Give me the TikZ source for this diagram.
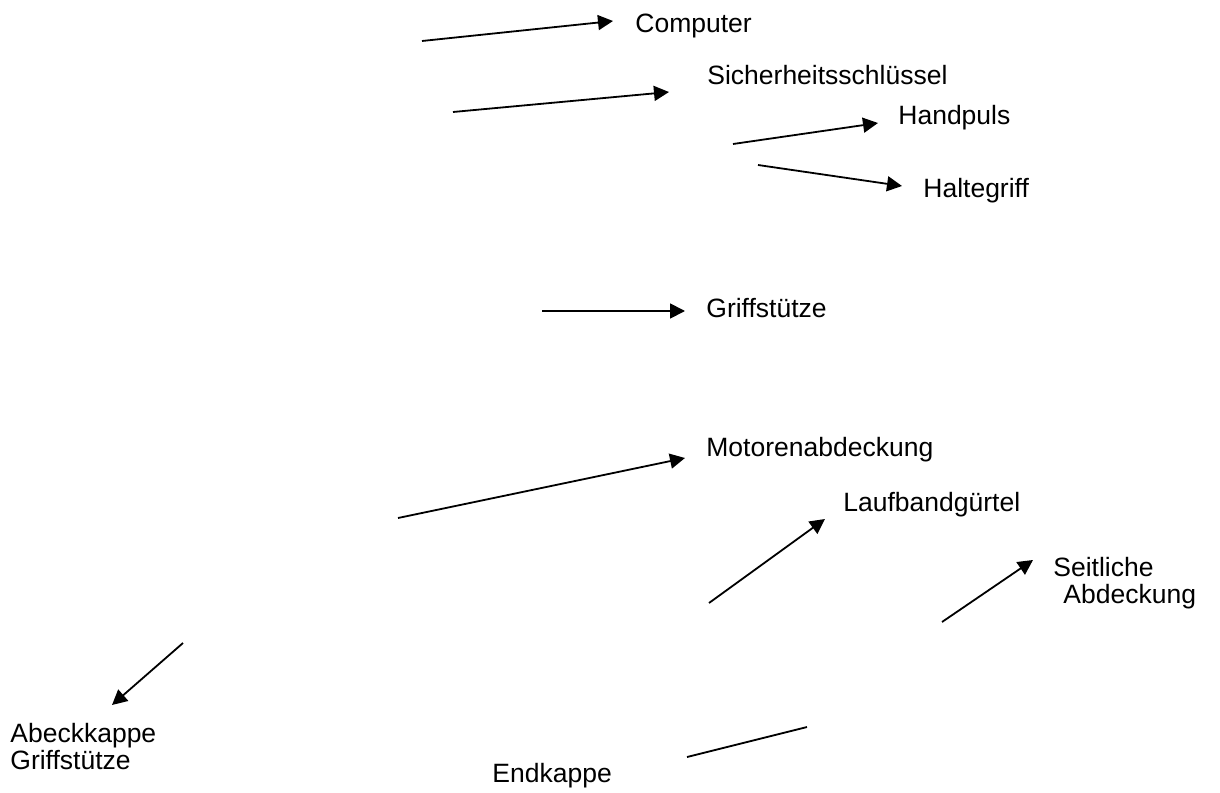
\documentclass[tikz,border=0pt]{standalone}
\usepackage{fontspec}
\setmainfont{Liberation Sans}
\usetikzlibrary{arrows.meta, positioning}

\begin{document}
\begin{tikzpicture}[
  x=0.5pt, y=-0.5pt,
  lbl/.style = {
    inner sep=0pt, anchor=base west, align=left,
    font=\fontsize{13.25}{13.5}\selectfont
  },
  arrow/.style = {-{Triangle[length=7.5pt, width=7.5pt]}, line width=0.9pt},
  plain/.style = {line width=0.9pt}
]
  \useasboundingbox (0,0) rectangle (1220,792);

  % Beschriftungen
  \node[lbl] (comp)  at (635,33)  {Computer};
  \node[lbl] (key)   at (707,85)  {Sicherheitsschlüssel};
  \node[lbl] (puls)  at (898,125) {Handpuls};
  \node[lbl] (grip)  at (923,197) {Haltegriff};
  \node[lbl] (supp)  at (706,317) {Griffstütze};
  \node[lbl] (motor) at (706,456) {Motorenabdeckung};
  \node[lbl] (belt)  at (843,511) {Laufbandgürtel};
  \node[lbl] (side)  at (1053,603) {Seitliche\\\hspace*{5pt}Abdeckung};
  \node[lbl] (cap)   at (10,769)  {Abeckkappe\\Griffstütze};
  \node[lbl] (endc)  at (492,782) {Endkappe};

  % Anfangs- und Endpunkte der Pfeile
  \coordinate (a1) at (422,41);   \coordinate (t1) at (613,21);
  \coordinate (a2) at (453,112);  \coordinate (t2) at (669,92);
  \coordinate (a3) at (733,144);  \coordinate (t3) at (878,123);
  \coordinate (a4) at (758,165);  \coordinate (t4) at (902,186);
  \coordinate (a5) at (542,311);  \coordinate (t5) at (685,311);
  \coordinate (a6) at (398,518);  \coordinate (t6) at (685,458);
  \coordinate (a7) at (709,603);  \coordinate (t7) at (825,519);
  \coordinate (a8) at (942,622);  \coordinate (t8) at (1033,560);
  \coordinate (a9) at (183,643);  \coordinate (t9) at (112,705);
  \coordinate (a10) at (687,757); \coordinate (t10) at (807,727);

  % Pfeile
  \foreach \i in {1,...,9} {
    \draw[arrow] (a\i) -- (t\i);
  }
  \draw[plain] (a10) -- (t10);

\end{tikzpicture}
\end{document}
